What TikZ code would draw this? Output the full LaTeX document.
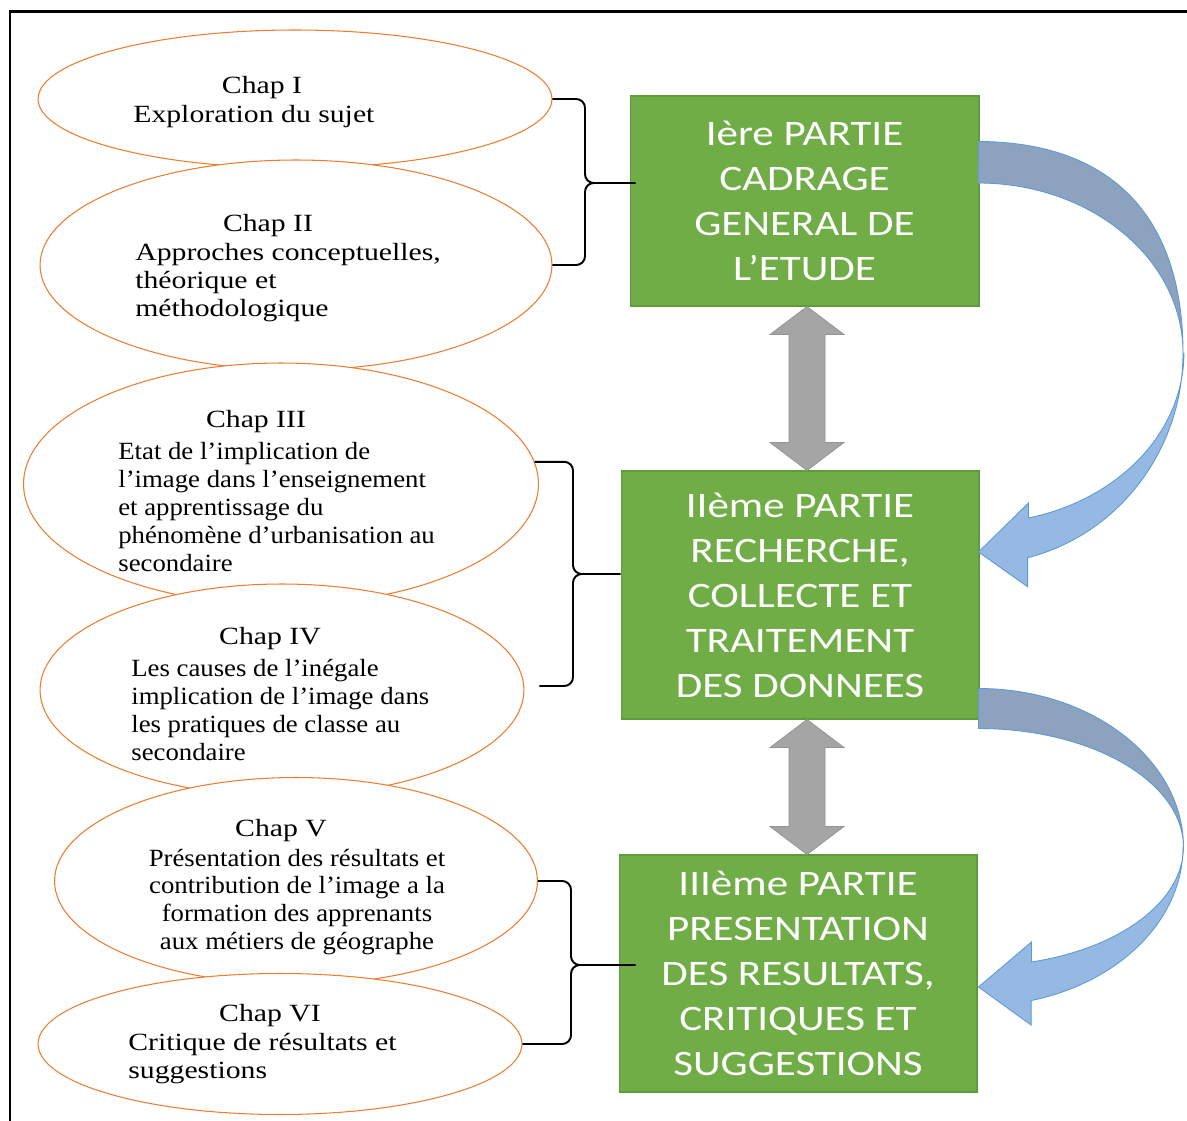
\documentclass[tikz,border=0pt]{standalone}
\usepackage{fontspec}
\setmainfont{Liberation Serif}[FakeStretch=1.2]
\newfontfamily\narrowserif{Liberation Serif}[FakeStretch=1.08]
\newfontfamily\partfont{Carlito}[FakeStretch=1.2]
\usepackage{xcolor}
\usetikzlibrary{calc, positioning, shapes.geometric}
\definecolor{chaporange}{HTML}{ED7D31}
\definecolor{partgreen}{HTML}{70AD47}
\definecolor{partedge}{HTML}{5E9B3B}
\definecolor{linkgray}{HTML}{A5A5A5}
\definecolor{linkgrayedge}{HTML}{939393}
\definecolor{frontblue}{HTML}{95B9E3}
\definecolor{backblue}{HTML}{8DA2BE}
\definecolor{blueedge}{HTML}{5B9BD5}

\begin{document}
\begin{tikzpicture}
              [x=0.02cm, y=-0.02cm,
               chap/.style={ellipse, draw=chaporange, line width=0.6pt, fill=white, inner sep=0pt},
               chaphead/.style={font=\fontsize{14.1}{15.9}\selectfont, inner sep=0pt},
               chaptext/.style={font=\fontsize{14.1}{15.9}\selectfont, inner sep=0pt, align=left, anchor=west},
               tighttext/.style={font=\narrowserif\fontsize{14.1}{15.9}\selectfont, inner sep=0pt, align=left, anchor=west},
               partbox/.style={rectangle, draw=partedge, line width=0.6pt, fill=partgreen, text=white, align=center,
                               font=\partfont\fontsize{20.4}{25.6}\selectfont, inner sep=0pt},
               curly/.style={line width=1.1pt, rounded corners=5pt},
               twoway/.style={fill=linkgray, draw=linkgrayedge, line width=0.4pt},
               backface/.style={fill=backblue, draw=blueedge, line width=0.5pt},
               frontface/.style={fill=frontblue, draw=blueedge, line width=0.5pt}]
              \useasboundingbox (0,0) rectangle (1187,1121);

              % frame %
              \draw[line width=1.7pt] (10,1130) -- (10,12) -- (1195,12);

              % chapters %
              \node[chap, minimum width=10.28cm, minimum height=2.76cm] (c1) at (295,99) {};
              \node[chap, minimum width=10.24cm, minimum height=4.2cm] (c2) at (296,265) {};
              \node[chap, minimum width=10.3cm, minimum height=4.84cm] (c3) at (281,484) {};
              \node[chap, minimum width=9.68cm, minimum height=4.24cm] (c4) at (282,690) {};
              \node[chap, minimum width=9.66cm, minimum height=4.14cm] (c5) at (296,881) {};
              \node[chap, minimum width=9.68cm, minimum height=2.82cm] (c6) at (280,1044) {};

              \node[chaphead] (h1) at (262,88) {Chap I};
              \node[chaptext] (t1) at (133,117) {Exploration du sujet};
              \node[chaphead] (h2) at (268,226) {Chap II};
              \node[chaptext] (t2) at (135,283) {Approches conceptuelles,\\théorique et\\méthodologique};
              \node[chaphead] (h3) at (256,422) {Chap III};
              \node[tighttext] (t3) at (118,507) {Etat de l’implication de\\l’image dans l’enseignement\\et apprentissage du\\phénomène d’urbanisation au\\secondaire};
              \node[chaphead] (h4) at (270,639) {Chap IV};
              \node[tighttext] (t4) at (131,710) {Les causes de l’inégale\\implication de l’image dans\\les pratiques de classe au\\secondaire};
              \node[chaphead] (h5) at (281,831) {Chap V};
              \node[tighttext, align=center, anchor=center] (t5) at (297,902) {Présentation des résultats et\\contribution de l’image a la\\formation des apprenants\\aux métiers de géographe};
              \node[chaphead] (h6) at (270,1016) {Chap VI};
              \node[chaptext] (t6) at (128,1059) {Critique de résultats et\\suggestions};

              % parts %
              \node[partbox, minimum width=6.98cm, minimum height=4.2cm] (p1) at (804.5,201) {Ière PARTIE\\CADRAGE\\GENERAL DE\\L’ETUDE};
              \node[partbox, minimum width=7.16cm, minimum height=4.96cm] (p2) at (800,595) {IIème PARTIE\\RECHERCHE,\\COLLECTE ET\\TRAITEMENT\\DES DONNEES};
              \node[partbox, minimum width=7.16cm, minimum height=4.74cm] (p3) at (798,973.5) {IIIème PARTIE\\PRESENTATION\\DES RESULTATS,\\CRITIQUES ET\\SUGGESTIONS};

              % gray links %
              \coordinate (ga) at (p1.south -| 807,0);
              \coordinate (gb) at (p2.north -| 807,0);
              \coordinate (gc) at (p2.south -| 807,0);
              \coordinate (gd) at (p3.north -| 807,0);
              \path[twoway] (ga) -- ++(37,28) -- ++(-19,0) -- ($(gb)+(18,-28)$) -- ++(19,0) -- (gb) -- ++(-37,-28) -- ++(19,0) -- ($(ga)+(-18,28)$) -- ++(-19,0) -- cycle;
              \path[twoway] (gc) -- ++(37,28) -- ++(-19,0) -- ($(gd)+(18,-28)$) -- ++(19,0) -- (gd) -- ++(-37,-28) -- ++(19,0) -- ($(gc)+(-18,28)$) -- ++(-19,0) -- cycle;

              % blue curved arrows %
              \coordinate (turn1) at (1183,353);
              \coordinate (tip1) at ($(p2.east)+(-1,-43)$);
              \path[backface] ($(p1.north east)+(-1,46)$) .. controls (1111,142) and (1183,216) .. (turn1)
                    arc[start angle=0, end angle=-90, x radius=205, y radius=170] -- cycle;
              \path[frontface] (turn1) arc[start angle=0, end angle=76, x radius=205, y radius=211] -- ++(0,29) -- (tip1)
                    -- ++(50,-49) -- ++(0,15) arc[start angle=76, end angle=0, x radius=205, y radius=170] -- cycle;

              \coordinate (turn2) at (1183,847);
              \coordinate (tip2) at ($(p3.east)+(1,13.5)$);
              \path[backface] ($(p2.south east)+(-1,-31)$) arc[start angle=-90, end angle=0, x radius=205, y radius=159]
                    arc[start angle=0, end angle=-90, x radius=205, y radius=119] -- cycle;
              \path[frontface] (turn2) arc[start angle=0, end angle=75, x radius=205, y radius=159] -- ++(0,24.4) -- (tip2)
                    -- ++(53,-45) -- ++(0,20) arc[start angle=75, end angle=0, x radius=205, y radius=119] -- cycle;

              % braces %
              \coordinate (k1) at (585,183);
              \draw[curly] (c1.east) -| (k1) -- ($(k1 -| p1.west)+(6,0)$);
              \draw[curly] (c2.east) -| (k1) -- ++(14,0);
              \coordinate (k2) at (573,574);
              \draw[curly] (c3.5) -| (k2) -- (k2 -| p2.west);
              \draw[curly] ($(c4.east)+(15,-4)$) -| (k2) -- ++(14,0);
              \coordinate (k3) at (571,965);
              \draw[curly] (c5.east) -| (k3) -- ($(k3 -| p3.west)+(17,0)$);
              \draw[curly] (c6.east) -| (k3) -- ++(14,0);
            \end{tikzpicture}
\end{document}
